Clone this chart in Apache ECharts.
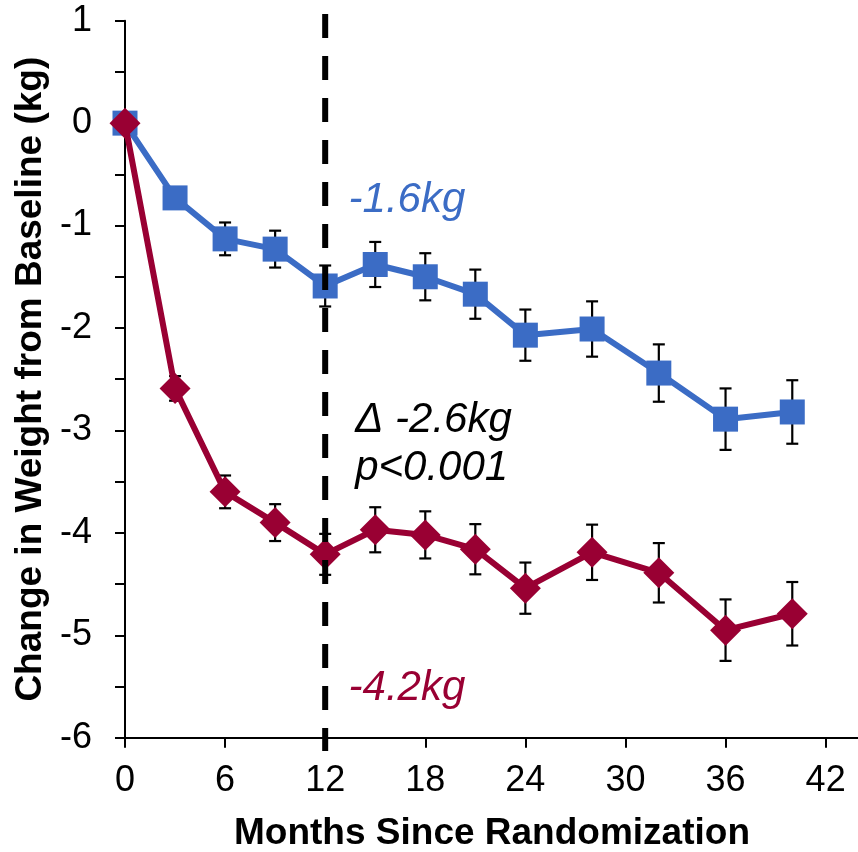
<!DOCTYPE html>
<html>
<head>
<meta charset="utf-8">
<script src="https://cdn.jsdelivr.net/npm/echarts@6/dist/echarts.min.js"></script>
<style>
html,body{margin:0;padding:0;background:#fff;}
#chart{width:858px;height:852px;}
</style>
</head>
<body>
<div id="chart"></div>
<script>
// ---- data ----
var months = [0, 3, 6, 9, 12, 15, 18, 21, 24, 28, 32, 36, 40];
var blueValues = [0, -0.73, -1.13, -1.23, -1.59, -1.38, -1.50, -1.67, -2.07, -2.01, -2.44, -2.89, -2.82];
var blueErrors = [0, 0.08, 0.16, 0.18, 0.20, 0.22, 0.23, 0.24, 0.25, 0.27, 0.28, 0.30, 0.31];
var redValues = [0, -2.59, -3.60, -3.90, -4.21, -3.97, -4.02, -4.16, -4.54, -4.19, -4.39, -4.95, -4.79];
var redErrors = [0, 0.12, 0.16, 0.18, 0.20, 0.22, 0.23, 0.245, 0.25, 0.27, 0.29, 0.30, 0.31];
var xTicks = [0, 6, 12, 18, 24, 30, 36, 42];
var yTicks = [1, 0, -1, -2, -3, -4, -5, -6];
var randomizationMonth = 12;
var annotations = [
  {text: '-1.6kg', x: 13.4, y: -0.75, color: '#3B6CC5'},
  {text: '\u0394 -2.6kg', x: 13.8, y: -2.9, color: '#000000'},
  {text: 'p<0.001', x: 13.8, y: -3.37, color: '#000000'},
  {text: '-4.2kg', x: 13.4, y: -5.52, color: '#990033'}
];

var BLUE = '#3B6CC5', RED = '#990033';
var FONT = "'Liberation Sans', Arial, sans-serif";

function pairs(xs, ys, es) {
  return xs.map(function (x, i) { return es ? [x, ys[i], es[i]] : [x, ys[i]]; });
}

function errRender(params, api) {
  var x = api.value(0), y = api.value(1), e = api.value(2);
  if (!e) return null;
  var top = api.coord([x, y + e]);
  var bot = api.coord([x, y - e]);
  var hw = 6;
  var style = {stroke: '#000', lineWidth: 2.2};
  return {
    type: 'group',
    children: [
      {type: 'line', shape: {x1: top[0], y1: top[1], x2: bot[0], y2: bot[1]}, style: style},
      {type: 'line', shape: {x1: top[0] - hw, y1: top[1], x2: top[0] + hw, y2: top[1]}, style: style},
      {type: 'line', shape: {x1: bot[0] - hw, y1: bot[1], x2: bot[0] + hw, y2: bot[1]}, style: style}
    ]
  };
}

var chart = echarts.init(document.getElementById('chart'), null, {renderer: 'canvas'});
var option = {
  animation: false,
  backgroundColor: '#fff',
  grid: [
    {left: 125, right: -1, top: 20.7, bottom: 114.3, containLabel: false, outerBoundsMode: 'none'},
    {left: 125, right: -1, top: 14, bottom: 101, containLabel: false, outerBoundsMode: 'none'}
  ],
  xAxis: [{
    type: 'value', min: 0, max: 44, interval: 6, gridIndex: 0,
    splitLine: {show: false},
    axisLine: {onZero: false, lineStyle: {color: '#000', width: 2}},
    axisTick: {show: true, inside: false, length: 10, lineStyle: {color: '#000', width: 2}, customValues: xTicks},
    axisLabel: {fontFamily: FONT, fontSize: 36, color: '#000', margin: 25, customValues: xTicks},
    name: 'Months Since Randomization', nameLocation: 'middle', nameGap: 78,
    nameTextStyle: {fontFamily: FONT, fontSize: 37, fontWeight: 'bold', color: '#000'}
  }, {
    type: 'value', min: 0, max: 44, gridIndex: 1, show: false
  }],
  yAxis: [{
    type: 'value', min: -6, max: 1, interval: 1, gridIndex: 0,
    splitLine: {show: false},
    axisLine: {onZero: false, lineStyle: {color: '#000', width: 2}},
    axisTick: {show: true, inside: false, length: 10, lineStyle: {color: '#000', width: 2}},
    minorTick: {show: true, splitNumber: 2, length: 10, lineStyle: {color: '#000', width: 2}},
    minorSplitLine: {show: false},
    axisLabel: {fontFamily: FONT, fontSize: 36, color: '#000', margin: 33},
    name: 'Change in Weight from Baseline (kg)', nameLocation: 'middle', nameGap: 70, nameRotate: 90,
    nameTextStyle: {fontFamily: FONT, fontSize: 37, fontWeight: 'bold', color: '#000'}
  }, {
    type: 'value', min: 0, max: 1, gridIndex: 1, show: false
  }],
  series: [
    {
      type: 'custom', name: 'blueErr', xAxisIndex: 0, yAxisIndex: 0, z: 1,
      renderItem: errRender, data: pairs(months, blueValues, blueErrors)
    },
    {
      type: 'custom', name: 'redErr', xAxisIndex: 0, yAxisIndex: 0, z: 1,
      renderItem: errRender, data: pairs(months, redValues, redErrors)
    },
    {
      type: 'line', name: 'blue', xAxisIndex: 0, yAxisIndex: 0, z: 3,
      data: pairs(months, blueValues),
      symbol: 'rect', symbolSize: 25, showAllSymbol: true,
      lineStyle: {color: BLUE, width: 6},
      itemStyle: {color: BLUE}
    },
    {
      type: 'line', name: 'red', xAxisIndex: 0, yAxisIndex: 0, z: 4,
      data: pairs(months, redValues),
      symbol: 'diamond', symbolSize: 31, showAllSymbol: true,
      lineStyle: {color: RED, width: 6},
      itemStyle: {color: RED}
    },
    {
      type: 'line', name: 'randomization', xAxisIndex: 1, yAxisIndex: 1, z: 6,
      data: [[randomizationMonth, 1], [randomizationMonth, 0]],
      symbol: 'none',
      lineStyle: {color: '#000', width: 6, type: [24, 18]}
    },
    {
      type: 'scatter', name: 'notes', xAxisIndex: 0, yAxisIndex: 0, z: 7,
      symbolSize: 0, silent: true,
      itemStyle: {opacity: 1},
      data: annotations.map(function (a) {
        return {
          value: [a.x, a.y],
          itemStyle: {opacity: 1},
          label: {
            show: true, position: 'inside', formatter: a.text,
            align: 'left', verticalAlign: 'middle', opacity: 1,
            fontFamily: FONT, fontStyle: 'italic', fontSize: 42, color: a.color
          }
        };
      })
    }
  ]
};
chart.setOption(option);
</script>
</body>
</html>
